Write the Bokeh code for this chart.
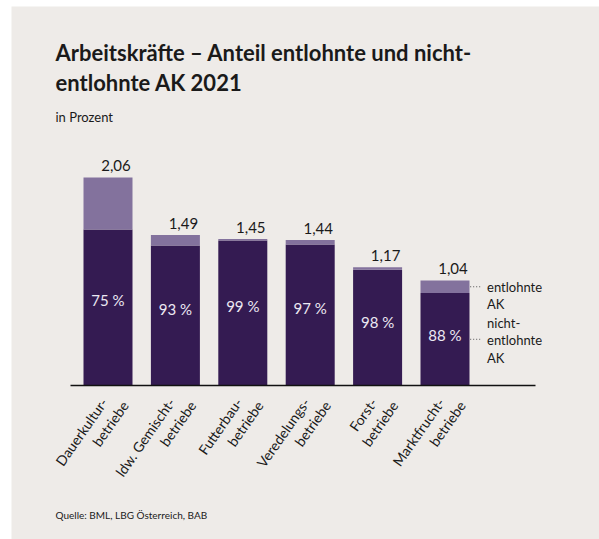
import math
from bokeh.plotting import figure
from bokeh.models import Range1d, ColumnDataSource
from bokeh.core.properties import value
from bokeh.embed import file_html
from bokeh.resources import INLINE

# ---- data ----
categories = ["Dauerkultur-\nbetriebe", "ldw. Gemischt-\nbetriebe", "Futterbau-\nbetriebe",
              "Veredelungs-\nbetriebe", "Forst-\nbetriebe", "Marktfrucht-\nbetriebe"]
totals = [2.06, 1.49, 1.45, 1.44, 1.17, 1.04]
share_unpaid = [75, 93, 99, 97, 98, 88]
legend_paid = "entlohnte\nAK"
legend_unpaid = "nicht-\nentlohnte\nAK"

title1 = "Arbeitskräfte – Anteil entlohnte und nicht-"
title2 = "entlohnte AK 2021"
subtitle = "in Prozent"
source_txt = "Quelle: BML, LBG Österreich, BAB"

# ---- styles / layout ----
BG = "#EEEBE8"
DARK = "#341B52"
LIGHT = "#83729D"
TXT = "#1A1A1A"
FONT = "Lato"
BAR_W = 0.727
W, H = 599, 539
PANEL_L, PANEL_T = 11, 6
X_SCALE, Y_SCALE = 67.4, 101.0
AXIS_PX0, AXIS_PX1, BASE_PY = 70, 535, 385
FIRST_BAR_PX = 107.5
ANG = math.radians(55)


def px(page_x):
    return (page_x - FIRST_BAR_PX) / X_SCALE


def py(page_y):
    return (BASE_PY - page_y) / Y_SCALE


idx = list(range(len(categories)))
unpaid = [t * s / 100 for t, s in zip(totals, share_unpaid)]
src = ColumnDataSource(dict(
    x=idx, total=totals, unpaid=unpaid,
    total_lbl=[f"{t:.2f}".replace(".", ",") for t in totals],
    pct_lbl=[f"{s} %" for s in share_unpaid],
    pct_y=[u * 0.55 for u in unpaid],
    cat1=[c.split("\n")[0] for c in categories],
    cat2=[c.split("\n")[1] for c in categories],
    zero=[0] * len(idx),
))

p = figure(width=W, height=H, output_backend="svg", toolbar_location=None,
           x_range=Range1d(px(PANEL_L), px(W)), y_range=Range1d(py(H), py(PANEL_T)),
           min_border_left=PANEL_L, min_border_top=PANEL_T, min_border_right=0, min_border_bottom=0,
           background_fill_color=BG, border_fill_color="white", outline_line_color=None)
p.xaxis.visible = False
p.yaxis.visible = False
p.xgrid.visible = False
p.ygrid.visible = False

p.vbar(x="x", width=BAR_W, bottom=0, top="unpaid", source=src, fill_color=DARK, line_color=None)
p.vbar(x="x", width=BAR_W, bottom="unpaid", top="total", source=src, fill_color=LIGHT, line_color=None)

# baseline
p.segment(x0=[px(AXIS_PX0)], x1=[px(AXIS_PX1)], y0=[0], y1=[0], line_color="#111111", line_width=1.5)

p.text(x="x", y="total", text="total_lbl", source=src, x_offset=8, y_offset=-6,
       text_align="center", text_baseline="bottom", text_font=value(FONT),
       text_font_size="15px", text_color=TXT)
p.text(x="x", y="pct_y", text="pct_lbl", source=src,
       text_align="center", text_baseline="middle", text_font=value(FONT),
       text_font_size="15px", text_color="#ECE8F2")

# rotated two-line category labels
p.text(x="x", y="zero", text="cat1", source=src, x_offset=-4, y_offset=14, angle=ANG,
       text_align="right", text_baseline="middle", text_font=value(FONT),
       text_font_size="14px", text_color=TXT)
p.text(x="x", y="zero", text="cat2", source=src, x_offset=17, y_offset=17, angle=ANG,
       text_align="right", text_baseline="middle", text_font=value(FONT),
       text_font_size="14px", text_color=TXT)

# legend leaders on the last bar
last = idx[-1]
edge = last + BAR_W / 2
mid_paid = (unpaid[-1] + totals[-1]) / 2
mid_unpaid = unpaid[-1] / 2
p.segment(x0=[edge + 0.01, edge + 0.01], x1=[edge + 0.17, edge + 0.17],
          y0=[mid_paid, mid_unpaid], y1=[mid_paid, mid_unpaid],
          line_color="#555555", line_width=1, line_dash="1 2")
p.text(x=[edge + 0.26], y=[mid_paid], text=[legend_paid], y_offset=-8,
       text_align="left", text_baseline="top", text_font=value(FONT),
       text_font_size="13px", text_color=TXT, text_line_height=1.05)
p.text(x=[edge + 0.26], y=[mid_unpaid], text=[legend_unpaid], y_offset=1,
       text_align="left", text_baseline="middle", text_font=value(FONT),
       text_font_size="13px", text_color=TXT, text_line_height=1.08)

# titles and source
p.text(x=[px(55), px(55)], y=[py(52), py(82)], text=[title1, title2],
       text_align="left", text_baseline="alphabetic", text_font=value(FONT),
       text_font_style="bold", text_font_size="22px", text_color=TXT)
p.text(x=[px(55)], y=[py(116)], text=[subtitle],
       text_align="left", text_baseline="alphabetic", text_font=value(FONT),
       text_font_size="13px", text_color=TXT)
p.text(x=[px(55)], y=[py(514)], text=[source_txt],
       text_align="left", text_baseline="alphabetic", text_font=value(FONT),
       text_font_size="10px", text_color=TXT)

open("out.html", "w").write(file_html(p, INLINE))
